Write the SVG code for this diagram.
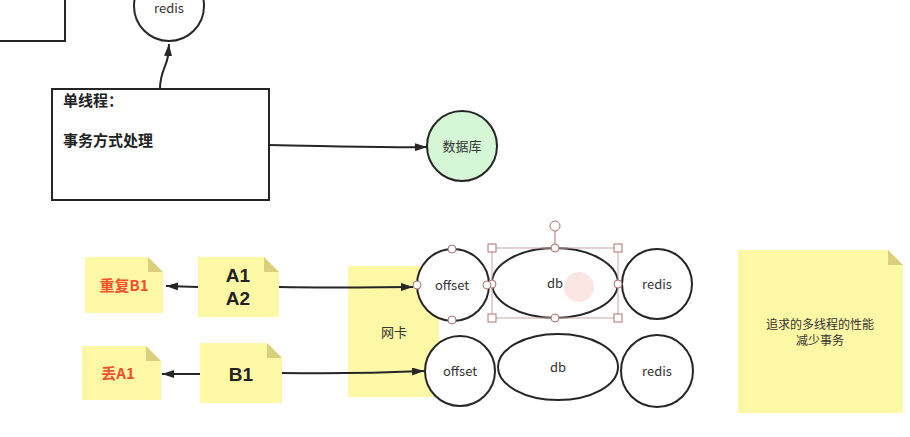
<svg xmlns="http://www.w3.org/2000/svg" width="910" height="437" viewBox="0 0 910 437">
<defs>
<style>
.shape{fill:#fff;stroke:#262626;stroke-width:2}
.note{fill:#fdf8a6}
.fold{fill:#d8d07c}
.lbl{font-family:"Noto Sans CJK SC","Liberation Sans",sans-serif;font-size:13px;fill:#333;text-anchor:middle}
.big{font-family:"Liberation Sans","Noto Sans CJK SC",sans-serif;font-size:19px;font-weight:bold;fill:#222;text-anchor:middle}
.red{font-family:"Noto Sans CJK SC","Liberation Sans",sans-serif;font-size:15px;font-weight:bold;fill:#f5502a;text-anchor:middle}
.bold{font-family:"Noto Sans CJK SC","Liberation Sans",sans-serif;font-size:15px;font-weight:bold;fill:#222}
.edge{fill:none;stroke:#262626;stroke-width:2}
.hnd{fill:#fff;stroke:#b07070;stroke-width:1}
</style>
<marker id="arr" viewBox="0 0 12 8" refX="12" refY="4" markerWidth="12" markerHeight="8" markerUnits="userSpaceOnUse" orient="auto">
<path d="M0 0 L12 4 L0 8 Z" fill="#262626"/>
</marker>
</defs>
<rect width="910" height="437" fill="#fff"/>

<g id="topleft-box"><rect class="shape" x="-10" y="-10" width="75" height="51"/></g>

<g id="redis-top"><circle class="shape" cx="169" cy="6" r="35"/><text class="lbl" x="169" y="13">redis</text></g>

<g id="single-thread"><rect class="shape" x="52" y="89" width="217" height="111"/>
<text class="bold" x="63" y="106">单线程：</text>
<text class="bold" x="63" y="146">事务方式处理</text></g>

<g id="database"><circle cx="462" cy="146" r="35" fill="#d6f7d6" stroke="#262626" stroke-width="2"/><text class="lbl" x="462" y="151">数据库</text></g>

<g id="nic"><rect class="note" x="348" y="266" width="91" height="131"/><text class="lbl" x="394" y="337">网卡</text></g>

<g id="note-dup"><path class="note" d="M85 257 H148 L163 272 V313 H85 Z"/><path class="fold" d="M148 257 L163 272 H148 Z"/><text class="red" x="124" y="291">重复B1</text></g>
<g id="note-a"><path class="note" d="M198 257 H264 L279 272 V317 H198 Z"/><path class="fold" d="M264 257 L279 272 H264 Z"/><text class="big" x="238" y="282">A1</text><text class="big" x="238" y="305">A2</text></g>
<g id="note-lost"><path class="note" d="M82 346 H146 L161 361 V400 H82 Z"/><path class="fold" d="M146 346 L161 361 H146 Z"/><text class="red" x="118" y="379">丢A1</text></g>
<g id="note-b"><path class="note" d="M200 343 H267 L282 358 V403 H200 Z"/><path class="fold" d="M267 343 L282 358 H267 Z"/><text class="big" x="241" y="381">B1</text></g>

<g id="note-right"><path class="note" d="M738 250 H888 L903 265 V413 H738 Z"/><path class="fold" d="M888 250 L903 265 H888 Z"/>
<text class="lbl" x="820" y="329" style="font-size:12px">追求的多线程的性能</text>
<text class="lbl" x="820" y="345" style="font-size:12px">减少事务</text></g>

<g id="offset1"><circle class="shape" cx="453" cy="285" r="36"/><text class="lbl" x="452" y="290">offset</text></g>
<g id="db1"><ellipse class="shape" cx="555" cy="283" rx="63" ry="35"/><text class="lbl" x="555" y="288">db</text></g>
<g id="redis1"><circle class="shape" cx="657" cy="284" r="35"/><text class="lbl" x="657" y="289">redis</text></g>
<g id="offset2"><circle class="shape" cx="460" cy="371" r="35"/><text class="lbl" x="460" y="376">offset</text></g>
<g id="db2"><ellipse class="shape" cx="558" cy="367" rx="60" ry="33"/><text class="lbl" x="558" y="372">db</text></g>
<g id="redis2"><circle class="shape" cx="657" cy="371" r="36"/><text class="lbl" x="657" y="376">redis</text></g>

<g id="selection">
<circle cx="579" cy="287" r="15" fill="#fbdcd7" opacity="0.7"/>
<rect x="492" y="248" width="126" height="70" fill="none" stroke="#c9a5a5" stroke-width="1"/>
<line x1="555" y1="231" x2="555" y2="248" stroke="#b07070" stroke-width="1"/>
<circle class="hnd" cx="555" cy="226" r="5"/>
<rect class="hnd" x="488" y="244" width="8" height="8"/><rect class="hnd" x="614" y="244" width="8" height="8"/>
<rect class="hnd" x="488" y="314" width="8" height="8"/><rect class="hnd" x="614" y="314" width="8" height="8"/>
<circle class="hnd" cx="555" cy="248" r="4"/><circle class="hnd" cx="555" cy="318" r="4"/>
<circle class="hnd" cx="492" cy="284" r="4"/><circle class="hnd" cx="618" cy="284" r="4"/>
<circle class="hnd" cx="452" cy="249" r="4"/><circle class="hnd" cx="452" cy="320" r="4"/>
<circle class="hnd" cx="417" cy="285" r="4"/><circle class="hnd" cx="487" cy="285" r="4"/>
</g>

<g id="connectors">
<path class="edge" d="M160 89 C160 72 166 68 168 56 L169 44" marker-end="url(#arr)"/>
<path class="edge" d="M269 145 C330 146 360 148 427 147" marker-end="url(#arr)"/>
<path class="edge" d="M198 287 L166 286" marker-end="url(#arr)"/>
<path class="edge" d="M279 287 C340 288 380 287 413 287" marker-end="url(#arr)"/>
<path class="edge" d="M200 374 L162 374" marker-end="url(#arr)"/>
<path class="edge" d="M282 373 C340 374 380 373 424 371" marker-end="url(#arr)"/>
</g>
</svg>
